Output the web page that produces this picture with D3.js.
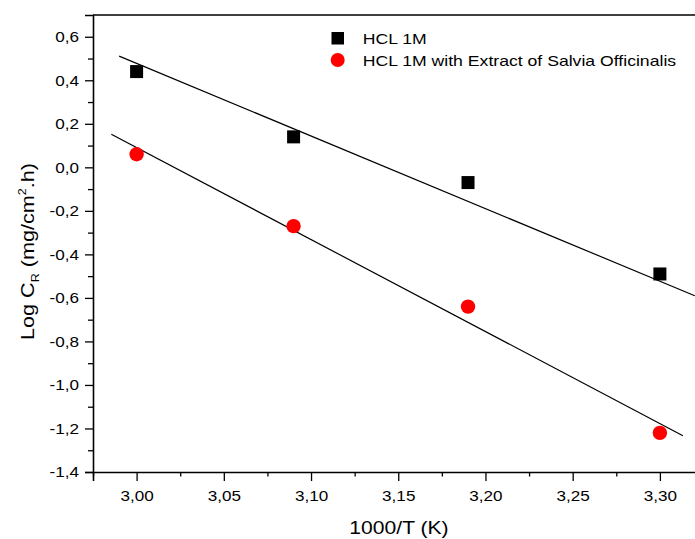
<!DOCTYPE html>
<html>
<head>
<meta charset="utf-8">
<script src="https://cdn.jsdelivr.net/npm/d3@7"></script>
<style>
  body { margin: 0; background: #fff; }
  svg { display: block; font-family: Arial, "Liberation Sans", sans-serif; }
</style>
</head>
<body>
<svg id="chart" width="695" height="539"></svg>
<script>
// data
const temps = [3.00, 3.09, 3.19, 3.30];
const hclValues = [0.44, 0.14, -0.07, -0.49];
const salviaValues = [0.06, -0.27, -0.64, -1.22];

// fitted lines (end points)
const hclFitX = [2.99, 3.32];
const hclFitY = [0.511, -0.590];
const salviaFitX = [2.9855, 3.3132];
const salviaFitY = [0.152, -1.233];

const xTicks = [3.00, 3.05, 3.10, 3.15, 3.20, 3.25, 3.30];
const xMinorTicks = [2.975, 3.025, 3.075, 3.125, 3.175, 3.225, 3.275];
const yTicks = [-1.4, -1.2, -1.0, -0.8, -0.6, -0.4, -0.2, 0.0, 0.2, 0.4, 0.6];
const yMinorTicks = [-1.3, -1.1, -0.9, -0.7, -0.5, -0.3, -0.1, 0.1, 0.3, 0.5];

const legendLabels = ["HCL 1M", "HCL 1M with Extract of Salvia Officinalis"];

const svg = d3.select('#chart');
const mLeft = 93, mTop = 15, mBottom = 472, mRight = 703.5;

const x = d3.scaleLinear().domain([2.975, 3.325]).range([mLeft, mRight]);
const y = d3.scaleLinear().domain([-1.4, 0.7]).range([mBottom, mTop]);

const comma = (f) => (d) => d3.format(f)(d).replace('.', ',').replace('−', '-');

// the original figure is a bit wider than tall, stretch the glyphs to match
function stretch(sel, k) {
  sel.each(function() {
    const len = this.getComputedTextLength();
    d3.select(this).attr('textLength', len * k).attr('lengthAdjust', 'spacingAndGlyphs');
  });
}

// frame top line
svg.append('line')
  .attr('x1', mLeft).attr('x2', mRight)
  .attr('y1', mTop).attr('y2', mTop)
  .attr('stroke', '#000').attr('stroke-width', 1.6);

// x axis
const gx = svg.append('g').attr('transform', 'translate(0,' + mBottom + ')');
gx.call(d3.axisBottom(x).tickValues(xTicks).tickSize(9).tickPadding(9).tickFormat(comma('.2f')));
gx.append('g').call(d3.axisBottom(x).tickValues(xMinorTicks).tickSize(4.5).tickFormat(''));

// y axis
const gy = svg.append('g').attr('transform', 'translate(' + mLeft + ',0)');
gy.call(d3.axisLeft(y).tickValues(yTicks).tickSize(8).tickPadding(6).tickFormat(comma('.1f')));
gy.append('g').call(d3.axisLeft(y).tickValues(yMinorTicks).tickSize(5).tickFormat(''));

svg.selectAll('.domain').attr('stroke-width', 1.6);
svg.selectAll('.tick line').attr('stroke-width', 1.3);
svg.selectAll('.tick text').attr('font-size', 15).attr('fill', '#000')
  .attr('font-family', 'Arial, "Liberation Sans", sans-serif');
gy.selectAll('g > g').selectAll('.domain').remove();
gx.selectAll('g > g').selectAll('.domain').remove();
stretch(svg.selectAll('.tick text'), 1.14);

// fit lines
const line = d3.line().x((d) => x(d[0])).y((d) => y(d[1]));
svg.append('path')
  .attr('d', line(d3.zip(hclFitX, hclFitY)))
  .attr('stroke', '#000').attr('stroke-width', 1.2).attr('fill', 'none');
svg.append('path')
  .attr('d', line(d3.zip(salviaFitX, salviaFitY)))
  .attr('stroke', '#000').attr('stroke-width', 1.2).attr('fill', 'none');

// markers
const sq = 13;
svg.append('g').selectAll('rect')
  .data(d3.zip(temps, hclValues))
  .enter().append('rect')
  .attr('x', (d) => x(d[0]) - sq / 2)
  .attr('y', (d) => y(d[1]) - sq / 2)
  .attr('width', sq).attr('height', sq)
  .attr('fill', '#000');

svg.append('g').selectAll('circle')
  .data(d3.zip(temps, salviaValues))
  .enter().append('circle')
  .attr('cx', (d) => x(d[0]))
  .attr('cy', (d) => y(d[1]))
  .attr('r', 7.2)
  .attr('fill', '#ff0000');

// legend
const lg = svg.append('g');
lg.append('rect').attr('x', 331.5).attr('y', 32).attr('width', 12.5).attr('height', 12.5).attr('fill', '#000');
lg.append('circle').attr('cx', 337.7).attr('cy', 60).attr('r', 7).attr('fill', '#ff0000');
const lgText = lg.selectAll('text')
  .data(legendLabels)
  .enter().append('text')
  .attr('x', 362.7)
  .attr('y', (d, i) => 44 + i * 21.7)
  .attr('font-size', 15)
  .text((d) => d);
stretch(lgText, 1.175);

// axis titles
const xt = svg.append('text')
  .attr('x', 399).attr('y', 534)
  .attr('text-anchor', 'middle').attr('font-size', 19)
  .text('1000/T (K)');
stretch(xt, 1.11);

const yt = svg.append('text')
  .attr('transform', 'translate(34,251.5) rotate(-90)')
  .attr('text-anchor', 'middle').attr('font-size', 19);
yt.append('tspan').text('Log C');
yt.append('tspan').attr('font-size', 11).attr('dy', 5).text('R');
yt.append('tspan').attr('dy', -5).text('  (mg/cm');
yt.append('tspan').attr('font-size', 11).attr('dy', -8).text('2');
yt.append('tspan').attr('dy', 8).text('.h)');
yt.attr('textLength', 177).attr('lengthAdjust', 'spacingAndGlyphs');
</script>
</body>
</html>
